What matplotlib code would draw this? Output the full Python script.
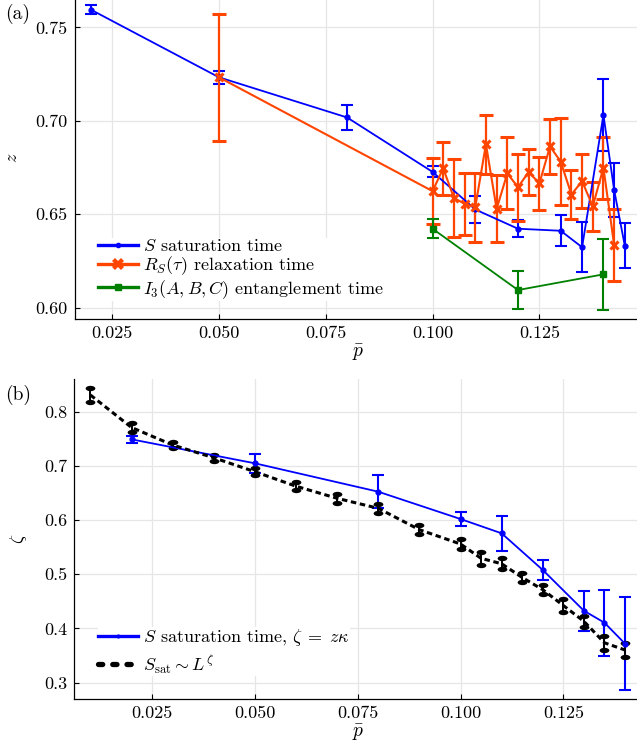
import matplotlib
matplotlib.use("Agg")
import matplotlib.pyplot as plt
from matplotlib.lines import Line2D
from matplotlib.markers import MarkerStyle
from matplotlib.path import Path
from matplotlib.transforms import Affine2D

plt.rcParams['font.family'] = ['cmr10', 'DejaVu Serif']
plt.rcParams['mathtext.fontset'] = 'cm'
plt.rcParams['axes.formatter.use_mathtext'] = True

# (a) time scales
p_sat = [0.02, 0.05, 0.08, 0.10, 0.11, 0.12, 0.13, 0.135, 0.14, 0.1425, 0.145]
z_sat = [0.7595, 0.7233, 0.7018, 0.6727, 0.6526, 0.6423, 0.6412, 0.6324, 0.7032, 0.6631, 0.6332]
z_sat_err = [0.0022, 0.0036, 0.0067, 0.0030, 0.0072, 0.0044, 0.0083, 0.0134, 0.0192, 0.0146, 0.0119]

p_rel = [0.05, 0.10, 0.1025, 0.105, 0.1075, 0.11, 0.1125, 0.115, 0.1175, 0.12,
         0.1225, 0.125, 0.1275, 0.13, 0.1325, 0.135, 0.1375, 0.14, 0.1425]
z_rel = [0.7233, 0.6624, 0.6746, 0.6588, 0.6556, 0.6538, 0.6875, 0.6529, 0.6719, 0.6645,
         0.6727, 0.6665, 0.6863, 0.6782, 0.6606, 0.6677, 0.6543, 0.6749, 0.6337]
z_rel_err = [0.0339, 0.0175, 0.0141, 0.0209, 0.0164, 0.0185, 0.0158, 0.0179, 0.0192, 0.0179,
             0.0124, 0.0141, 0.0149, 0.0233, 0.0132, 0.0145, 0.0130, 0.0165, 0.0194]

p_ent = [0.10, 0.12, 0.14]
z_ent = [0.6423, 0.6095, 0.6179]
z_ent_err = [0.0052, 0.0104, 0.0189]

# (b) exponents
p_zeta = [0.02, 0.05, 0.08, 0.10, 0.11, 0.12, 0.13, 0.135, 0.14]
zeta_sat = [0.749, 0.7048, 0.6524, 0.602, 0.5756, 0.508, 0.4328, 0.4107, 0.372]
zeta_sat_err = [0.006, 0.0178, 0.031, 0.0133, 0.032, 0.018, 0.037, 0.061, 0.0855]

p_L = [0.01, 0.02, 0.03, 0.04, 0.05, 0.06, 0.07, 0.08, 0.09, 0.10,
       0.105, 0.11, 0.115, 0.12, 0.125, 0.13, 0.135, 0.14]
zeta_L = [0.8308, 0.7709, 0.7386, 0.715, 0.6893, 0.6625, 0.6402, 0.6217, 0.5823, 0.5559,
          0.5295, 0.5194, 0.4941, 0.4716, 0.4424, 0.4133, 0.3736, 0.3603]
zeta_L_err = [0.0124, 0.0077, 0.006, 0.0052, 0.006, 0.007, 0.008, 0.008, 0.0086, 0.0087,
              0.0123, 0.0101, 0.0077, 0.0086, 0.0114, 0.0098, 0.0132, 0.0135]

xticks = [0.025, 0.050, 0.075, 0.100, 0.125]
xticklabels = ['0.025', '0.050', '0.075', '0.100', '0.125']
yticks_a = [0.60, 0.65, 0.70, 0.75]
yticklabels_a = ['0.60', '0.65', '0.70', '0.75']
yticks_b = [0.3, 0.4, 0.5, 0.6, 0.7, 0.8]
yticklabels_b = ['0.3', '0.4', '0.5', '0.6', '0.7', '0.8']

labels_a = [r'$S$ saturation time', r'$R_S(\tau)$ relaxation time',
            r'$I_3(A,B,C)$ entanglement time']
labels_b = [r'$S$ saturation time, $\zeta \;=\; z\kappa$', r'$S_{\rm sat} \sim L^{\zeta}$']

BLUE = '#0000ff'
ORANGE = '#ff4500'
GREEN = '#008000'
FS = 13

# flat ellipse used as the cap of the black error bars
blob = MarkerStyle(Path.unit_circle().transformed(Affine2D().scale(1.0, 0.55)))


def style_axes(ax):
    for s in ['top', 'right']:
        ax.spines[s].set_visible(False)
    for s in ['left', 'bottom']:
        ax.spines[s].set_linewidth(0.9)
    ax.grid(True, color='#e6e6e6', linewidth=0.9)
    ax.set_axisbelow(True)
    ax.tick_params(direction='in', length=3.5, width=0.8, labelsize=FS, pad=5)


fig = plt.figure(figsize=(6.37, 7.51), dpi=100)
ax1 = fig.add_axes([0.1173, 0.5752, 0.8887, 0.4297])
ax2 = fig.add_axes([0.1168, 0.0692, 0.8895, 0.4258])

# --- panel (a)
ax1.errorbar(p_sat, z_sat, yerr=z_sat_err, color=BLUE, lw=1.3, marker='o', ms=3.5,
             capsize=4.5, capthick=1.5, elinewidth=1.5)
ax1.errorbar(p_rel, z_rel, yerr=z_rel_err, color=ORANGE, lw=1.5, marker='x', ms=6, mew=2.2,
             capsize=5, capthick=1.6, elinewidth=1.6)
ax1.errorbar(p_ent, z_ent, yerr=z_ent_err, color=GREEN, lw=1.3, marker='s', ms=5,
             capsize=4.5, capthick=1.5, elinewidth=1.5)
style_axes(ax1)
ax1.set_xlim(0.01625, 0.14875)
ax1.set_ylim(0.5940, 0.7666)
ax1.set_xticks(xticks, xticklabels)
ax1.set_yticks(yticks_a, yticklabels_a)
ax1.set_xlabel(r'$\bar{p}$', fontsize=14, labelpad=1)
ax1.set_ylabel(r'$z$', fontsize=13, labelpad=11)

handles_a = [
    Line2D([], [], color=BLUE, lw=2.4, marker='o', ms=3),
    Line2D([], [], color=ORANGE, lw=2.4, marker='X', ms=8, mew=0),
    Line2D([], [], color=GREEN, lw=2.4, marker='s', ms=4),
]
ax1.legend(handles_a, labels_a, loc='upper left', bbox_to_anchor=(0.041, 0.250), fontsize=FS,
           frameon=True, framealpha=1, edgecolor='none', fancybox=False, borderpad=0,
           handlelength=2.2, handletextpad=0.3, labelspacing=0.02, borderaxespad=0)

# --- panel (b)
ax2.errorbar(p_zeta, zeta_sat, yerr=zeta_sat_err, color=BLUE, lw=1.3, marker='o', ms=3.5,
             capsize=4.5, capthick=1.5, elinewidth=1.5)
eb = ax2.errorbar(p_L, zeta_L, yerr=zeta_L_err, color='black', lw=2.2, ls=(0, (1.8, 1.2)),
                  capsize=5, elinewidth=1.4)
for cl in eb[1]:
    cl.set_marker(blob)
    cl.set_markersize(7)
    cl.set_markerfacecolor('black')
    cl.set_markeredgewidth(0)
style_axes(ax2)
ax2.set_xlim(0.0061, 0.1439)
ax2.set_ylim(0.2698, 0.8599)
ax2.set_xticks(xticks, xticklabels)
ax2.set_yticks(yticks_b, yticklabels_b)
ax2.set_xlabel(r'$\bar{p}$', fontsize=14, labelpad=1)
ax2.set_ylabel(r'$\zeta$', fontsize=13, labelpad=11)

handles_b = [
    Line2D([], [], color=BLUE, lw=2.4, marker='o', ms=2),
    Line2D([], [], color='black', lw=3.8, ls=(0, (0.8, 1.9)), dash_capstyle='round'),
]
ax2.legend(handles_b, labels_b, loc='upper left', bbox_to_anchor=(0.0417, 0.225), fontsize=FS,
           frameon=True, framealpha=1, edgecolor='none', fancybox=False, borderpad=0,
           handlelength=2.2, handletextpad=0.3, labelspacing=0.25, borderaxespad=0)

fig.text(0.008, 0.982, '(a)', fontsize=14, va='center', ha='left')
fig.text(0.008, 0.4735, '(b)', fontsize=14, va='center', ha='left')

fig.savefig('out.png', dpi=100)
